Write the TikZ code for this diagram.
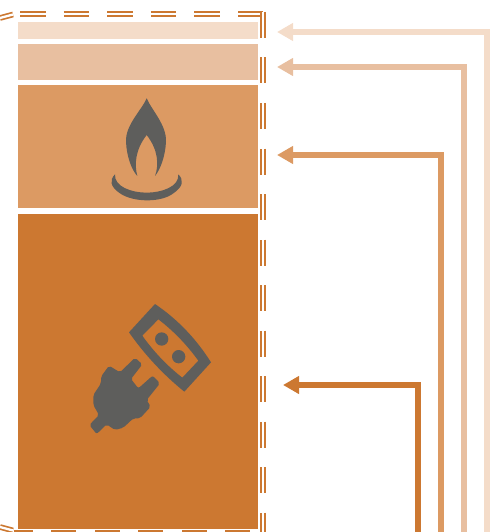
\documentclass[tikz,border=0pt]{standalone}
\usepackage{xcolor}
\usetikzlibrary{arrows.meta}
\definecolor{bandA}{HTML}{F4DCC9}
\definecolor{bandB}{HTML}{E8BFA0}
\definecolor{bandC}{HTML}{DC9A63}
\definecolor{bandD}{HTML}{CC7831}
\definecolor{icongray}{HTML}{5E5E5C}
\tikzset{
feed/.style={-{Triangle[length=16pt,width=17pt]}, line width=5.5pt, line join=miter},
border/.style={draw=bandD, line width=1.7pt, double=white, double distance=2.3pt},
}

\begin{document}
\begin{tikzpicture}[x=1pt,y=-1pt]
\clip (0,0) rectangle (498,532);

\coordinate (riseA) at (487,545);
\coordinate (riseB) at (464,545);
\coordinate (riseC) at (441,545);
\coordinate (riseD) at (418,545);
\coordinate (inA) at (277,32);
\coordinate (inB) at (277,67);
\coordinate (inC) at (277,155);
\coordinate (inD) at (283,385);

\fill[bandA] (18,22) rectangle (258,39);
\fill[bandB] (18,44) rectangle (258,80);
\fill[bandC] (18,85) rectangle (258,208);
\fill[bandD] (18,214) rectangle (258,529);

\draw[border, dash pattern=on 25.5pt off 18.1pt] (20,14) -- (263,14);
\draw[border, dash pattern=on 26pt off 19.5pt] (263,12) -- (263,532);
\draw[border, dash pattern=on 25pt off 18.5pt] (250,533) -- (14,533);
\draw[border] (0,18) -- (13,14.5);
\draw[border] (0,527) -- (13,530.5);

\draw[feed, bandA] (riseA) |- (inA);
\draw[feed, bandB] (riseB) |- (inB);
\draw[feed, bandC] (riseC) |- (inC);
\draw[feed, bandD] (riseD) |- (inD);

\begin{scope}[shift={(90,90)},scale=1/3]
\fill[icongray] (170,25) .. controls (185,60) and (230,105) .. (228,155) .. controls (226,200) and (210,240) .. (195,258) .. controls (207,225) and (205,180) .. (170,135) .. controls (135,180) and (133,225) .. (142,258) .. controls (125,240) and (110,200) .. (108,155) .. controls (106,105) and (155,60) .. (170,25) -- cycle;
\fill[icongray] (75,253) .. controls (58,270) and (60,290) .. (90,310) .. controls (130,338) and (215,338) .. (250,310) .. controls (280,290) and (282,270) .. (265,253) .. controls (268,290) and (215,308) .. (170,308) .. controls (125,308) and (72,290) .. (75,253) -- cycle;
\end{scope}

\begin{scope}[shift={(125,300)},scale=1/3]
\fill[icongray, even odd rule] (90,12) .. controls (158,58) and (214,117) .. (258,187) -- (178,275) .. controls (115,224) and (59,164) .. (12,97) -- cycle
(100,58) .. controls (146,93) and (186,135) .. (220,182) -- (172,233) .. controls (126,197) and (86,155) .. (52,107) -- cycle
(110,117) circle (20) (161,170) circle (20);
\end{scope}

\begin{scope}[shift={(85,355)},scale=1/3]
\fill[icongray, rounded corners=2pt] (48,65) -- (72,32) -- (105,52) -- (150,8) -- (172,28) -- (138,72) -- (160,100) -- (203,62) -- (225,85) -- (185,135) -- (197,155) -- (165,190) -- (145,190) -- (115,218) -- (90,225) -- (65,208) -- (35,237) -- (13,210) -- (42,180) -- (25,150) -- (25,120) -- (48,85) -- cycle;
\end{scope}

\end{tikzpicture}
\end{document}
